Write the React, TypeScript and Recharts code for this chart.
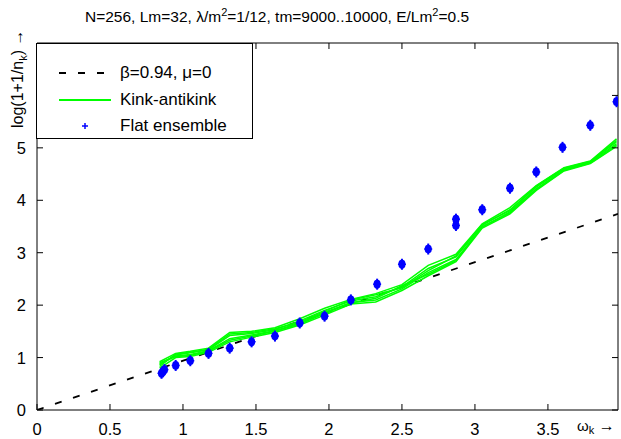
import React from 'react';
import {
  ComposedChart,
  Line,
  Scatter,
  XAxis,
  YAxis,
  Legend,
} from 'recharts';

// mode frequencies (omega_k) shared by the kink-antikink runs
const omegas = [0.84, 0.95, 1.05, 1.175, 1.32, 1.47, 1.63, 1.8, 1.97, 2.15, 2.32, 2.5, 2.68, 2.87, 3.05, 3.24, 3.42, 3.61, 3.79, 3.97];

// log(1+1/n_k), several kink-antikink runs (tm=9000..10000)
const kinkA = [0.92, 1.08, 1.12, 1.18, 1.48, 1.5, 1.57, 1.74, 1.94, 2.11, 2.22, 2.39, 2.76, 2.97, 3.55, 3.86, 4.28, 4.62, 4.75, 5.17];
const kinkB = [0.8, 1.0, 1.02, 1.1, 1.3, 1.39, 1.48, 1.62, 1.81, 2.02, 2.06, 2.28, 2.56, 2.83, 3.47, 3.74, 4.19, 4.56, 4.7, 5.03];
const kinkC = [0.86, 1.05, 1.09, 1.15, 1.42, 1.46, 1.53, 1.7, 1.9, 2.08, 2.16, 2.35, 2.7, 2.92, 3.52, 3.82, 4.25, 4.6, 4.73, 5.12];
const kinkD = [0.88, 1.03, 1.06, 1.13, 1.36, 1.43, 1.51, 1.66, 1.86, 2.05, 2.1, 2.31, 2.62, 2.87, 3.49, 3.78, 4.22, 4.58, 4.72, 5.08];
const kinkE = [0.83, 1.07, 1.1, 1.16, 1.45, 1.48, 1.55, 1.68, 1.88, 2.1, 2.2, 2.33, 2.66, 2.94, 3.54, 3.8, 4.27, 4.61, 4.74, 5.14];
const kinkF = [0.9, 1.02, 1.04, 1.12, 1.33, 1.41, 1.5, 1.64, 1.84, 2.04, 2.13, 2.37, 2.59, 2.85, 3.5, 3.76, 4.21, 4.57, 4.71, 5.05];

// flat ensemble points
const flatW = [0.853, 0.862, 0.873, 0.95, 1.05, 1.175, 1.32, 1.47, 1.63, 1.8, 1.97, 2.15, 2.33, 2.5, 2.68, 2.87, 2.87, 3.05, 3.24, 3.42, 3.6, 3.79, 3.97];
const flatY = [0.7, 0.73, 0.77, 0.85, 0.94, 1.08, 1.18, 1.3, 1.41, 1.66, 1.79, 2.1, 2.4, 2.78, 3.07, 3.52, 3.64, 3.82, 4.23, 4.54, 5.01, 5.43, 5.88];

// beta=0.94, mu=0 line, endpoints
const thermalW = [0, 3.98];
const thermalY = [0, 3.74];

const xTicks = [0, 0.5, 1, 1.5, 2, 2.5, 3, 3.5];
const yTicks = [0, 1, 2, 3, 4, 5, 6];

const FONT = '"Liberation Sans", Arial, Helvetica, sans-serif';

const kinkRuns = [kinkA, kinkB, kinkC, kinkD, kinkE, kinkF].map((ys) =>
  omegas.map((w, i) => ({ w, y: ys[i] }))
);
const flatData = flatW.map((w, i) => ({ w, y: flatY[i] }));
const thermalData = thermalW.map((w, i) => ({ w, y: thermalY[i] }));

function BottomTick({ x, y, payload }: any) {
  return (
    <g>
      <line x1={x} y1={y} x2={x} y2={y - 6} stroke="#000" />
      <text x={x} y={y + 25} textAnchor="middle" fontSize={16.5} fontFamily={FONT} fill="#000">
        {payload.value}
      </text>
    </g>
  );
}

function TopTick({ x, y }: any) {
  return <line x1={x} y1={y} x2={x} y2={y + 6} stroke="#000" />;
}

function LeftTick({ x, y, payload }: any) {
  return (
    <g>
      <line x1={x} y1={y} x2={x + 6} y2={y} stroke="#000" />
      {payload.value !== 6 && (
        <text x={x - 11} y={y + 6} textAnchor="end" fontSize={16.5} fontFamily={FONT} fill="#000">
          {payload.value}
        </text>
      )}
    </g>
  );
}

function RightTick({ x, y }: any) {
  return <line x1={x} y1={y} x2={x - 6} y2={y} stroke="#000" />;
}

function FlatPoint({ cx, cy }: any) {
  if (cx == null || cy == null) return null;
  return (
    <g>
      <line x1={cx} y1={cy - 5.5} x2={cx} y2={cy + 5.5} stroke="#0000ff" strokeWidth={2} />
      <line x1={cx - 4} y1={cy} x2={cx + 4} y2={cy} stroke="#0000ff" strokeWidth={1.5} />
      <ellipse cx={cx} cy={cy} rx={3.6} ry={4.4} fill="#0000ff" />
    </g>
  );
}

function KeyBox() {
  const row = (top: number, sample: React.ReactNode, label: string) => (
    <div style={{ position: 'absolute', left: 0, top, height: 20, width: 214 }}>
      <svg width={80} height={20} style={{ position: 'absolute', left: 0, top: 0 }}>
        {sample}
      </svg>
      <span style={{ position: 'absolute', left: 83, top: 0, lineHeight: '20px', fontSize: 17, fontFamily: FONT, whiteSpace: 'nowrap' }}>
        {label}
      </span>
    </div>
  );
  return (
    <div style={{ position: 'relative', width: 215, height: 94, border: '1px solid #000', background: '#fff' }}>
      {row(19, <line x1={22} y1={10} x2={76} y2={10} stroke="#000" strokeWidth={1.8} strokeDasharray="7 12" />, '\u03b2=0.94, \u03bc=0')}
      {row(46, <line x1={22} y1={10} x2={74} y2={10} stroke="#00ff00" strokeWidth={1.8} />, 'Kink-antikink')}
      {row(72, (
        <g>
          <line x1={48} y1={7} x2={48} y2={13} stroke="#0000ff" strokeWidth={1.5} />
          <line x1={45} y1={10} x2={51} y2={10} stroke="#0000ff" strokeWidth={1.5} />
        </g>
      ), 'Flat ensemble')}
    </div>
  );
}

export default function App() {
  return (
    <div style={{ position: 'absolute', left: 0, top: 0, width: 621, height: 439, background: '#fff' }}>
      <ComposedChart width={621} height={439} margin={{ top: 42, right: 2, bottom: 0, left: 0 }}>
        <XAxis
          xAxisId="b"
          type="number"
          dataKey="w"
          domain={[0, 3.98]}
          ticks={xTicks}
          allowDataOverflow
          height={29}
          tickSize={0}
          tickMargin={0}
          tickLine={false}
          axisLine={{ stroke: '#000' }}
          tick={<BottomTick />}
          interval={0}
        />
        <XAxis
          xAxisId="t"
          orientation="top"
          type="number"
          dataKey="w"
          domain={[0, 3.98]}
          ticks={xTicks}
          allowDataOverflow
          height={1}
          tickSize={0}
          tickMargin={0}
          tickLine={false}
          axisLine={{ stroke: '#000' }}
          tick={<TopTick />}
          interval={0}
        />
        <YAxis
          yAxisId="l"
          type="number"
          dataKey="y"
          domain={[0, 7]}
          ticks={yTicks}
          allowDataOverflow
          width={37}
          tickSize={0}
          tickMargin={0}
          tickLine={false}
          axisLine={{ stroke: '#000' }}
          tick={<LeftTick />}
          interval={0}
        />
        <YAxis
          yAxisId="r"
          orientation="right"
          type="number"
          dataKey="y"
          domain={[0, 7]}
          ticks={yTicks}
          allowDataOverflow
          width={1}
          tickSize={0}
          tickMargin={0}
          tickLine={false}
          axisLine={{ stroke: '#000' }}
          tick={<RightTick />}
          interval={0}
        />
        <Line
          xAxisId="t"
          yAxisId="r"
          data={thermalData}
          dataKey="y"
          stroke="transparent"
          dot={false}
          isAnimationActive={false}
          legendType="none"
        />
        <Line
          xAxisId="b"
          yAxisId="l"
          data={thermalData}
          dataKey="y"
          stroke="#000"
          strokeWidth={1.8}
          strokeDasharray="7 12"
          dot={false}
          isAnimationActive={false}
        />
        {kinkRuns.map((run, i) => (
          <Line
            key={`kink-${i}`}
            xAxisId="b"
            yAxisId="l"
            data={run}
            dataKey="y"
            stroke="#00ff00"
            strokeWidth={1.5}
            dot={false}
            isAnimationActive={false}
          />
        ))}
        <Scatter
          xAxisId="b"
          yAxisId="l"
          data={flatData}
          dataKey="y"
          fill="#0000ff"
          shape={<FlatPoint />}
          isAnimationActive={false}
        />
        <Legend
          layout="vertical"
          align="center"
          verticalAlign="middle"
          content={() => <KeyBox />}
          wrapperStyle={{ position: 'absolute', left: 36, top: 43, width: 217, height: 96 }}
        />
      </ComposedChart>
      <svg width={621} height={439} style={{ position: 'absolute', left: 0, top: 0, pointerEvents: 'none' }}>
        <text x={85} y={22} fontSize={15.5} fontFamily={FONT} fill="#000">
          N=256, Lm=32, {'\u03bb'}/m<tspan dy={-6} fontSize={11}>2</tspan>
          <tspan dy={6}>=1/12, tm=9000..10000, E/Lm</tspan>
          <tspan dy={-6} fontSize={11}>2</tspan>
          <tspan dy={6}>=0.5</tspan>
        </text>
        <text transform="translate(23,128) rotate(-90)" fontSize={16} fontFamily={FONT} fill="#000">
          log(1+1/n<tspan dy={4} fontSize={11}>k</tspan>
          <tspan dy={-4}>)  {'\u2192'}</tspan>
        </text>
        <text x={577} y={431} fontSize={15} fontFamily={FONT} fill="#000">
          {'\u03c9'}<tspan dy={3} fontSize={11}>k</tspan>
          <tspan dy={-3} fontSize={16}> {'\u2192'}</tspan>
        </text>
      </svg>
    </div>
  );
}
